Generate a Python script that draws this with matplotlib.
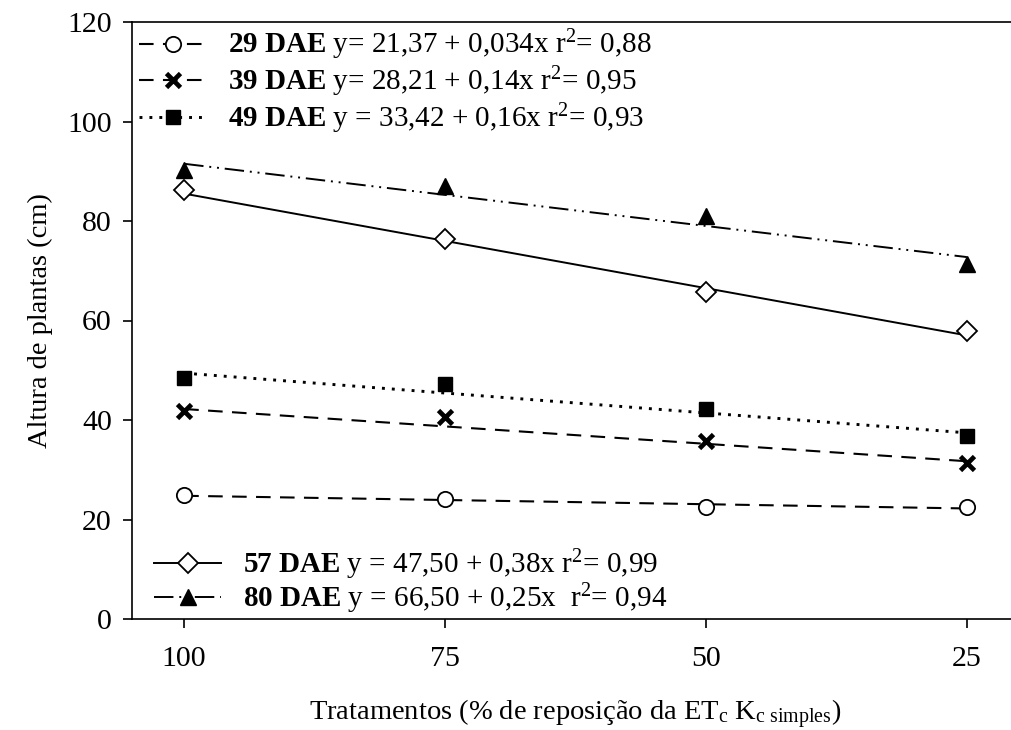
import matplotlib as mpl
mpl.use('Agg')

from matplotlib import pyplot as plt
import numpy as np

# 字型設定（Times 風格）
plt.rcParams['font.family'] = ['Liberation Serif', 'DejaVu Serif']
plt.rcParams['mathtext.fontset'] = 'custom'
plt.rcParams['mathtext.rm'] = 'Liberation Serif'
plt.rcParams['mathtext.it'] = 'Liberation Serif:italic'
plt.rcParams['mathtext.bf'] = 'Liberation Serif:bold'

# 資料
tratamentos = [100, 75, 50, 25]
dae = ['29', '39', '49', '57', '80']
altura_29 = [24.9, 24.1, 22.6, 22.6]
altura_39 = [41.9, 40.6, 35.7, 31.3]
altura_49 = [48.4, 47.2, 42.2, 36.7]
altura_57 = [86.3, 76.4, 65.7, 57.9]
altura_80 = [90.3, 87.0, 81.0, 71.4]
# 迴歸係數 y = a + b*x
coef_a = [21.37, 28.21, 33.42, 47.50, 66.50]
coef_b = [0.034, 0.14, 0.16, 0.38, 0.25]
coef_r2 = ['0,88', '0,95', '0,93', '0,99', '0,94']
eq_text = ['y= 21,37 + 0,034x', 'y= 28,21 + 0,14x', 'y = 33,42 + 0,16x',
           'y = 47,50 + 0,38x', 'y = 66,50 + 0,25x ']

series = [altura_29, altura_39, altura_49, altura_57, altura_80]
markers = [
    dict(marker='o', mfc='white', mec='black', ms=11, mew=1.3),
    dict(marker='x', mfc='black', mec='black', ms=10, mew=3.4),
    dict(marker='s', mfc='black', mec='black', ms=10, mew=1),
    dict(marker='D', mfc='white', mec='black', ms=10, mew=1.3),
    dict(marker='^', mfc='black', mec='black', ms=11, mew=1),
]
lines = [
    dict(ls=(0, (7, 4.5)), lw=1.5),
    dict(ls=(0, (7, 4.5)), lw=1.5),
    dict(ls=(0, (1, 2.4)), lw=2.1),
    dict(ls='-', lw=1.4),
    dict(ls=(0, (10, 3, 1, 3, 1, 3)), lw=1.4),
]

fig = plt.figure(figsize=(10.12, 7.3), dpi=100)
ax = fig.add_axes([132 / 1012, 111 / 730, 887 / 1012, 597 / 730])

x = np.array(tratamentos, dtype=float)
handles = []
for i in range(5):
    ax.plot(x, coef_a[i] + coef_b[i] * x, color='black', **lines[i])
    ax.plot(x, series[i], ls='none', **markers[i], zorder=3)
    h, = ax.plot([], [], color='black', **lines[i], **markers[i])
    handles.append(h)

labels = [r'$\mathbf{%s\ DAE}$ %s r$^{2}$= %s' % (dae[i], eq_text[i], coef_r2[i])
          for i in range(5)]

leg1 = ax.legend(handles[:3], labels[:3], loc='upper left',
                 bbox_to_anchor=(0.008, 0.99), frameon=False, fontsize=21,
                 handlelength=2.3, handletextpad=0.75, labelspacing=0.08,
                 borderaxespad=0, borderpad=0)
ax.add_artist(leg1)
ax.legend(handles[3:], labels[3:], loc='lower left',
          bbox_to_anchor=(0.025, 0.005), frameon=False, fontsize=21,
          handlelength=2.3, handletextpad=0.75, labelspacing=0.0,
          borderaxespad=0, borderpad=0)

ax.set_xlim(105, 20)
ax.set_ylim(0, 120)
ax.set_xticks(tratamentos)
ax.set_yticks(np.arange(0, 121, 20))
ax.tick_params(axis='both', direction='out', length=6.5, width=1.2,
               labelsize=21.5, colors='black')
ax.tick_params(axis='x', pad=13)
ax.tick_params(axis='y', pad=8)
for s in ['left', 'bottom', 'top']:
    ax.spines[s].set_linewidth(1.2)
ax.spines['right'].set_visible(False)

ax.set_xlabel(r'Tratamentos (% de reposição da ET$_{\mathrm{c}}$ K$_{\mathrm{c\ simples}}$)',
              fontsize=20.5, labelpad=18)
ax.set_ylabel('Altura de plantas (cm)', fontsize=20.5, labelpad=10)

plt.savefig('out.png', dpi=100)
plt.close()
